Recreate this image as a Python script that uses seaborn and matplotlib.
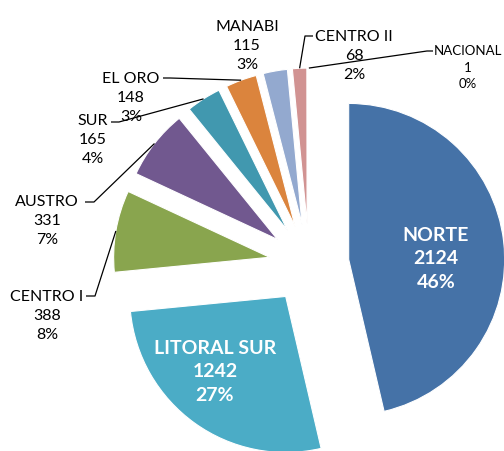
import numpy as np
import matplotlib
matplotlib.use("Agg")
import matplotlib.pyplot as plt
import seaborn as sns

sns.set_theme(style="white")
plt.rcParams["font.family"] = ["Lato", "DejaVu Sans"]

# -------------------------------------------------
# Data
# -------------------------------------------------
regions = ["NORTE", "LITORAL SUR", "CENTRO I", "AUSTRO", "SUR",
           "EL ORO", "MANABI", "CENTRO II", "NACIONAL"]
counts = [2124, 1242, 388, 331, 165, 148, 115, 68, 1]
pct_labels = ["46%", "27%", "8%", "7%", "4%", "3%", "3%", "2%", "0%"]
colors = ["#4572A7", "#4BACC6", "#89A54E", "#71588F", "#4198AF",
          "#DB843D", "#93A9CF", "#D19392", "#B9CD96"]

# -------------------------------------------------
# Layout (pixels)
# -------------------------------------------------
W, H = 504, 452
CX, CY, R = 309, 265, 156

inside_pos = {"NORTE": (436, 259), "LITORAL SUR": (215, 372)}
outside_pos = {
    "CENTRO I": (47, 316),
    "AUSTRO": (47, 221),
    "SUR": (93, 140),
    "EL ORO": (131, 98),
    "MANABI": (247, 46),
    "CENTRO II": (354, 56),
    "NACIONAL": (468, 68),
}
# elbow points of the leader lines, from the label side
leaders = {
    "CENTRO I": [(86, 297), (95, 297)],
    "AUSTRO": [(85, 203), (94, 203)],
    "SUR": [(111, 123), (119, 123)],
    "EL ORO": [(163, 79), (170, 79)],
    "CENTRO II": [(313, 37), (305, 37)],
    "NACIONAL": [(433, 52), (427, 52)],
}


def px(x, y):
    return (x - CX) / R, (CY - y) / R


fig = plt.figure(figsize=(W / 100, H / 100), dpi=100)
ax = fig.add_axes([0, 0, 1, 1])

wedges, _ = ax.pie(
    counts,
    colors=colors,
    startangle=90,
    counterclock=False,
    explode=[0.256] * len(counts),
    wedgeprops=dict(edgecolor="white", linewidth=0.8),
)

for w, name, n, pct in zip(wedges, regions, counts, pct_labels):
    text = f"{name}\n{n}\n{pct}"
    if name in inside_pos:
        ax.text(*px(*inside_pos[name]), text, ha="center", va="center",
                color="white", fontsize=14, fontweight="bold", linespacing=1.45)
        continue
    size = 9.5 if name == "NACIONAL" else 11.5
    ax.text(*px(*outside_pos[name]), text, ha="center", va="center",
            color="black", fontsize=size, linespacing=1.45)
    if name in leaders:
        mid = np.deg2rad((w.theta1 + w.theta2) / 2)
        anchor = (w.center[0] + w.r * np.cos(mid), w.center[1] + w.r * np.sin(mid))
        pts = [px(*p) for p in leaders[name]] + [anchor]
        xs, ys = zip(*pts)
        ax.plot(xs, ys, color="black", lw=0.9, solid_capstyle="butt")

ax.set_xlim(-CX / R, (W - CX) / R)
ax.set_ylim(-(H - CY) / R, CY / R)
ax.set_aspect("equal")
ax.axis("off")

fig.savefig("out.png", dpi=100)
